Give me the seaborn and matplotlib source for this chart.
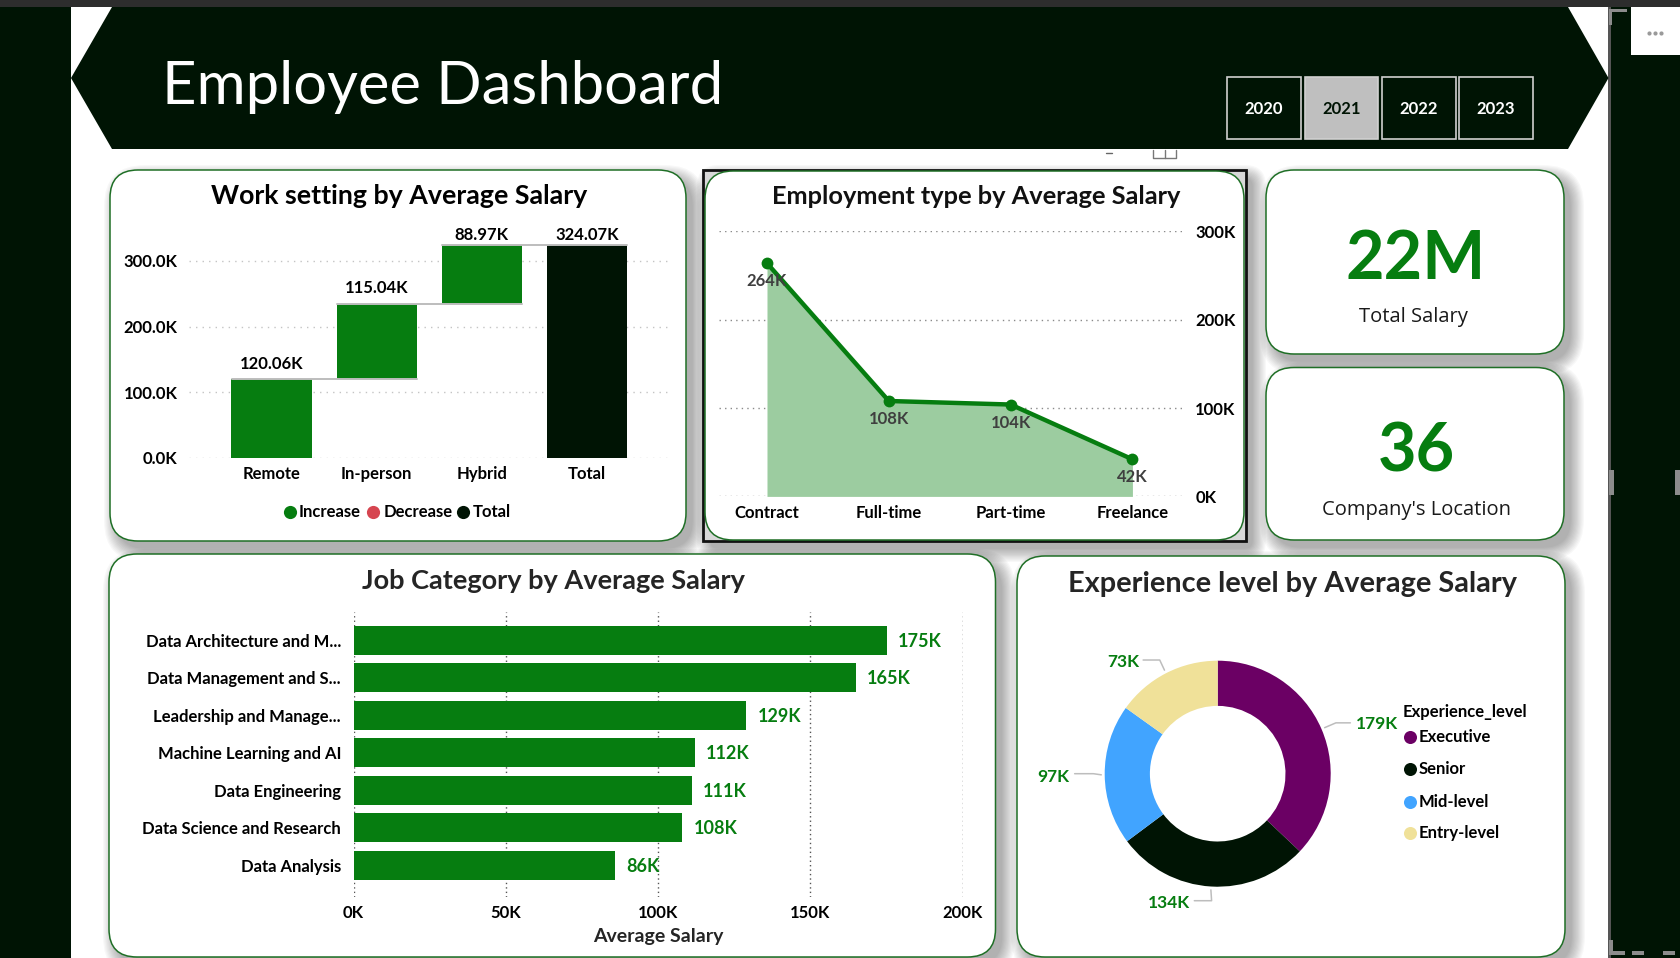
import matplotlib
matplotlib.use("Agg")
import matplotlib.pyplot as plt
from matplotlib.patches import FancyBboxPatch, Polygon, Rectangle
import numpy as np
import seaborn as sns

# ---- data ----
work_settings = ["Remote", "In-person", "Hybrid", "Total"]
work_values = [120.06, 115.04, 88.97, 324.07]
work_labels = ["120.06K", "115.04K", "88.97K", "324.07K"]
work_ticks = [0, 100, 200, 300]

emp_types = ["Contract", "Full-time", "Part-time", "Freelance"]
emp_values = [264, 108, 104, 42]
emp_ticks = [0, 100, 200, 300]

job_cats = ["Data Architecture and M...", "Data Management and S...", "Leadership and Manage...",
            "Machine Learning and AI", "Data Engineering", "Data Science and Research", "Data Analysis"]
job_values = [175, 165, 129, 112, 111, 108, 86]
job_ticks = [0, 50, 100, 150, 200]

exp_levels = ["Executive", "Senior", "Mid-level", "Entry-level"]
exp_values = [179, 134, 97, 73]

years = ["2020", "2021", "2022", "2023"]
selected_year = "2021"
kpi_total = "22M"
kpi_locations = "36"

# ---- styles ----
DARK = "#001404"
GREEN = "#067D10"
AREA = "#9CCCA0"
RED = "#D64550"
EDGE = "#1F6F26"
exp_colors = ["#6B0064", DARK, "#41A4FF", "#F0E199"]

W, H = 1680, 958
sns.set_theme(style="white")
plt.rcParams["font.family"] = ["Lato", "DejaVu Sans"]
plt.rcParams["axes.unicode_minus"] = False

fig = plt.figure(figsize=(W / 100, H / 100), dpi=100, facecolor="white")


def axes_px(x0, y0, x1, y1, **kw):
    return fig.add_axes([x0 / W, 1 - y1 / H, (x1 - x0) / W, (y1 - y0) / H], **kw)


bg = axes_px(0, 0, W, H)
bg.set_xlim(0, W)
bg.set_ylim(H, 0)
bg.axis("off")


def shadow(x0, y0, x1, y1, r):
    for k in range(12):
        g = 13 - k * 1.2
        bg.add_patch(FancyBboxPatch((x0 + 7 - g, y0 + 8 - g), x1 - x0 + 2 * g, y1 - y0 + 2 * g,
                                    boxstyle=f"round,pad=0,rounding_size={r + g}",
                                    fc="black", ec="none", alpha=0.026, zorder=1))


def panel(x0, y0, x1, y1, r=28, edge=EDGE, lw=1.1):
    shadow(x0, y0, x1, y1, r)
    bg.add_patch(FancyBboxPatch((x0, y0), x1 - x0, y1 - y0, boxstyle=f"round,pad=0,rounding_size={r}",
                                fc="white", ec=edge, lw=lw, zorder=3))


# frame: strips, banner
bg.add_patch(Rectangle((0, 0), 71, H, fc=DARK, ec="none"))
bg.add_patch(Rectangle((1610, 7), 70, H, fc=DARK, ec="none"))
bg.add_patch(Rectangle((1608, 7), 3, H, fc="#555555", ec="none"))
bg.add_patch(Rectangle((0, 0), W, 7, fc="#2D2D2D", ec="none", zorder=6))
bg.add_patch(Polygon([(71, 78), (112, 7), (1568, 7), (1608.5, 78), (1568, 149), (112, 149)],
                     closed=True, fc=DARK, ec="none", zorder=2))
bg.text(162, 87, "Employee Dashboard", color="white", fontsize=43, family="Lato",
        fontweight="normal", va="center", ha="left", zorder=5)

# year slicer
for (x0, x1), yr in zip([(1227, 1301), (1304.5, 1378), (1382, 1456), (1459, 1533)], years):
    on = yr == selected_year
    bg.add_patch(Rectangle((x0, 76.5), x1 - x0, 62.5, fc="#BFBFBF" if on else DARK,
                           ec="#D0D0D0", lw=1.2, zorder=4))
    bg.text((x0 + x1) / 2, 109, yr, color=DARK if on else "white", fontsize=12, fontweight="bold",
            ha="center", va="center", zorder=5)

# focus-mode chrome
bg.add_patch(Rectangle((1631, 7), 49, 48, fc="white", ec="none", zorder=4))
bg.scatter([1649, 1655, 1661], [33, 33, 33], s=9, color="#9A9A9A", linewidths=0, zorder=5)
grey = "#8C8C8C"
for rect in [(1609, 9, 18, 3), (1609, 9, 3, 16), (1609, 470, 5, 25), (1675, 470, 5, 25),
             (1609, 951, 16, 4), (1609, 940, 4, 15), (1632, 951, 12, 4), (1663, 951, 12, 4)]:
    bg.add_patch(Rectangle(rect[:2], rect[2], rect[3], fc=grey, ec="none", zorder=6))
bg.plot([1106, 1112], [153, 153], color="#666666", lw=1)
bg.plot([1153, 1153, 1176, 1176], [150, 158, 158, 150], color="#777777", lw=1)
bg.plot([1164.5, 1164.5], [150, 158], color="#777777", lw=1)

# panels
panel(110, 170, 686, 541)
shadow(703, 170, 1246, 541, 8)
bg.add_patch(Rectangle((703, 170), 543, 371, fc="#D8D8D8", ec="#111111", lw=2, zorder=2))
bg.add_patch(FancyBboxPatch((705, 171), 539, 369, boxstyle="round,pad=0,rounding_size=28",
                            fc="white", ec=EDGE, lw=1.1, zorder=3))
panel(1266, 170, 1564, 354)
panel(1266, 367.5, 1564, 540)
panel(109, 554, 995.5, 957)
panel(1017, 556, 1565, 957)

TITLE = dict(fontweight="bold", ha="center", va="center", zorder=5)
bg.text(398.8, 196, "Work setting by Average Salary", color="black", fontsize=19.3, **TITLE)
bg.text(976, 196, "Employment type by Average Salary", color="#111111", fontsize=18.3, **TITLE)
bg.text(553.6, 581, "Job Category by Average Salary", color="#252525", fontsize=19.5, **TITLE)
bg.text(1293, 584, "Experience level by Average Salary", color="#252525", fontsize=20.8, **TITLE)

# KPI cards
KPI = dict(color=GREEN, fontsize=48, fontweight="bold", ha="center", va="center", zorder=5)
bg.text(1416, 260, kpi_total, **KPI)
bg.text(1416, 452, kpi_locations, **KPI)
SUB = dict(color="#1A1A1A", fontsize=14.5, family="Open Sans", ha="center", va="center", zorder=5)
bg.text(1413.7, 317, "Total Salary", **SUB)
bg.text(1416, 509.5, "Company's Location", **SUB)

TICK = dict(fontsize=12, fontweight="bold", color="black")
GRID_LIGHT = dict(color="#C4C4C4", lw=1, linestyle=(0, (1, 3.7)))

# ---- waterfall ----
ax = axes_px(188.5, 228, 672, 458)
ax.patch.set_alpha(0)
tops = np.cumsum(work_values[:3]).tolist() + [work_values[3]]
starts = [t - v for t, v in zip(tops[:3], work_values[:3])] + [0]
sns.barplot(x=work_settings, y=work_values, hue=work_settings, palette=[GREEN, GREEN, GREEN, DARK],
            width=0.763, dodge=False, legend=False, saturation=1, linewidth=0, ax=ax, zorder=3)
for bar, s in zip(ax.patches, starts):
    bar.set_y(s)
for i in range(3):
    ax.plot([i - 0.38, i + 1.38], [tops[i], tops[i]], color="#BDBDBD", lw=1.4, zorder=4)
for i, (lab, off) in enumerate(zip(work_labels, [5.3, 5.3, 1.5, 1.5])):
    ax.annotate(lab, (i, tops[i]), xytext=(0, off), textcoords="offset points", ha="center", va="bottom",
                annotation_clip=False, **TICK)
ax.set_xlim(-0.79, 3.81)
ax.set_ylim(0, 350)
ax.set_yticks(work_ticks, [f"{t:.1f}K" for t in work_ticks], **TICK)
ax.tick_params(axis="x", length=0, pad=6)
ax.tick_params(axis="y", length=0, pad=8)
for t in ax.get_xticklabels():
    t.set(**TICK)
ax.set_axisbelow(True)
ax.yaxis.grid(True, **GRID_LIGHT)
ax.xaxis.grid(False)
sns.despine(ax=ax, left=True, bottom=True)

for cx, tx, col, lab in [(290, 299, GREEN, "Increase"), (373, 383.5, RED, "Decrease"), (463, 473, DARK, "Total")]:
    bg.scatter([cx], [511.8], s=90, color=col, linewidths=0, zorder=5)
    bg.text(tx, 512, lab, ha="left", va="center", zorder=5, **TICK)

# ---- area line ----
ax = axes_px(719, 231.4, 1182, 496.4)
ax.patch.set_alpha(0)
pos = np.arange(len(emp_types))
ax.fill_between(pos, emp_values, 0, color=AREA, lw=0, zorder=2)
sns.lineplot(x=pos, y=emp_values, color=GREEN, lw=3.2, marker="o", markersize=8.5, markeredgewidth=0,
             sort=False, ax=ax, zorder=3, clip_on=False)
for p, v in zip(pos, emp_values):
    ax.annotate(f"{v}K", (p, v), xytext=(0, -13), textcoords="offset points", ha="center", va="center",
                fontsize=12, fontweight="bold", color="#3F3F3F", zorder=5)
ax.set_xlim(-0.394, 3.407)
ax.set_ylim(0, 300)
ax.set_xticks(pos, emp_types, **TICK)
ax.yaxis.tick_right()
ax.set_yticks(emp_ticks, [f"{t}K" for t in emp_ticks], **TICK)
ax.tick_params(axis="x", length=0, pad=6)
ax.tick_params(axis="y", length=0, pad=9.5)
ax.set_axisbelow(True)
ax.yaxis.grid(True, color="#8A8A8A", lw=1, linestyle=(0, (1, 3)))
ax.xaxis.grid(False)
ax.set_xlabel("")
ax.set_ylabel("")
sns.despine(ax=ax, left=True, bottom=True)

# ---- job bars ----
ax = axes_px(353.5, 611.7, 962.7, 897)
ax.patch.set_alpha(0)
sns.barplot(x=job_values, y=job_cats, color=GREEN, saturation=1, width=0.78, linewidth=0, ax=ax, zorder=3)
for i, v in enumerate(job_values):
    ax.annotate(f"{v}K", (v, i), xytext=(8, -0.5), textcoords="offset points", ha="left", va="center",
                fontsize=13, fontweight="bold", color=GREEN, zorder=5)
ax.set_xlim(0, 200)
ax.set_ylim(6.845, -0.763)
ax.set_xticks(job_ticks, [f"{t}K" for t in job_ticks], **TICK)
ax.tick_params(axis="x", length=0, pad=6)
ax.tick_params(axis="y", length=0, pad=9)
for t in ax.get_yticklabels():
    t.set(**TICK)
ax.set_axisbelow(True)
ax.xaxis.grid(True, color="#555555", lw=1, linestyle=(0, (1, 2.2)), zorder=1)
ax.yaxis.grid(False)
ax.set_xlabel("Average Salary", fontsize=14, fontweight="bold", color="#252525", labelpad=4.5)
sns.despine(ax=ax, left=True, bottom=True)

# ---- donut ----
R = 113
cx, cy = 1217.7, 773.7
ax = axes_px(cx - 1.6 * R, cy - 1.6 * R, cx + 1.6 * R, cy + 1.6 * R)
ax.patch.set_alpha(0)
ax.pie(exp_values, colors=exp_colors, startangle=90, counterclock=False, radius=1,
       wedgeprops=dict(width=0.4, linewidth=0))
ax.set_xlim(-1.6, 1.6)
ax.set_ylim(-1.6, 1.6)
fractions = np.cumsum([0] + exp_values) / sum(exp_values)
mids = (fractions[:-1] + fractions[1:]) / 2 * 2 * np.pi
# leader: elbow point, end point, label point and alignment for each slice
leaders = [((1.046, 0.45), (1.174, 0.45), (1.224, 0.436), "left"),
           ((-0.054, -1.124), (-0.207, -1.124), (-0.246, -1.14), "right"),
           ((-1.1, 0.0), (-1.266, 0.0), (-1.31, -0.027), "right"),
           ((-0.513, 1.006), (-0.66, 1.006), (-0.698, 0.99), "right")]
for a, v, (elbow, end, lp, ha) in zip(mids, exp_values, leaders):
    sx, sy = 1.03 * np.sin(a), 1.03 * np.cos(a)
    ax.plot([sx, elbow[0], end[0]], [sy, elbow[1], end[1]], color="#BDBDBD", lw=1.1, clip_on=False)
    ax.text(lp[0], lp[1], f"{v}K", color=GREEN, fontsize=12.5, fontweight="bold", ha=ha, va="center")

bg.text(1403, 712, "Experience_level", ha="left", va="center", zorder=5, **TICK)
for lab, col, y in zip(exp_levels, exp_colors, [737, 769, 801.5, 832.5]):
    bg.scatter([1410], [y], s=88, color=col, linewidths=0, zorder=5)
    bg.text(1419, y + 0.5, lab, ha="left", va="center", zorder=5, **TICK)

fig.savefig("out.png", dpi=100)
